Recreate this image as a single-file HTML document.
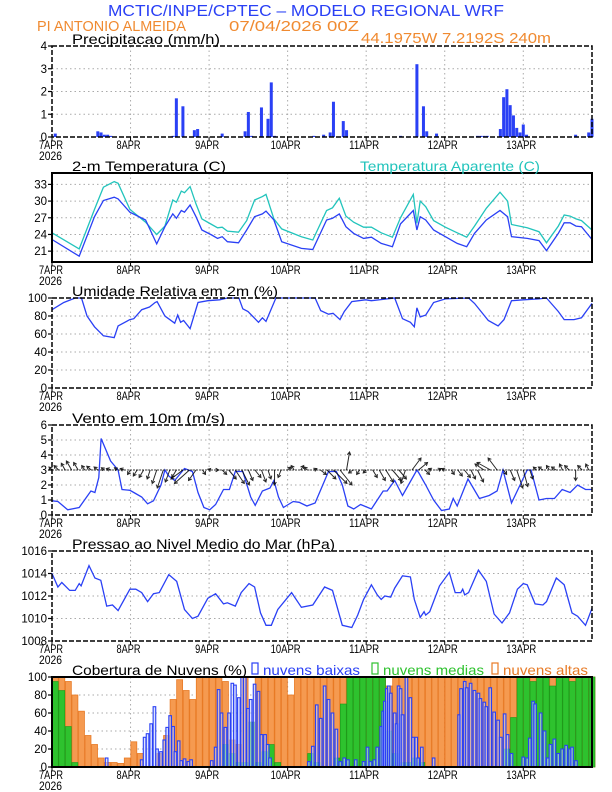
<!DOCTYPE html>
<html><head><meta charset="utf-8"><style>
html,body{margin:0;padding:0;background:#fff;}
svg{display:block;font-family:"Liberation Sans",sans-serif;}
</style></head><body>
<svg id="chart" width="612" height="792" viewBox="0 0 612 792" xmlns="http://www.w3.org/2000/svg">
<text x="108" y="16" font-size="16" fill="#2a40f5" textLength="396" lengthAdjust="spacingAndGlyphs">MCTIC/INPE/CPTEC – MODELO REGIONAL WRF</text>
<text x="37" y="31" font-size="15" fill="#f08a30" textLength="149" lengthAdjust="spacingAndGlyphs">PI ANTONIO ALMEIDA</text>
<text x="229" y="31" font-size="15" fill="#f08a30" textLength="130" lengthAdjust="spacingAndGlyphs">07/04/2026 00Z</text>
<text x="361" y="43" font-size="15" fill="#f08a30" textLength="190" lengthAdjust="spacingAndGlyphs">44.1975W 7.2192S 240m</text>
</svg>
<script>
// ---- data ----
const dayLabels = ["7APR","8APR","9APR","10APR","11APR","12APR","13APR"];
const precipHours = [1,14,15,16,17,18,37,38,40,43.5,44.5,52,59,60,61,64,66,67,68,80,83,85,86,89,90,106.5,111.5,113.5,114.5,117.5,130,131,132,133,137,138,139,140,141,142,143,144,145,160,164,165];
const precipVals  = [0.15,0.25,0.2,0.1,0.1,0.05,0.05,1.7,1.35,0.3,0.35,0.15,0.25,1.1,0.05,1.3,0.8,2.4,0.05,0.05,0.1,0.2,1.55,0.7,0.3,0.05,3.2,1.35,0.25,0.15,0.05,0.05,0.05,0.05,0.35,1.75,2.1,1.4,0.95,0.4,0.2,0.55,0.1,0.1,0.2,0.8];
const tempHours = [0,8.3,13,15.7,19,20.2,23.8,28.6,32,34.5,36.9,38,39.5,40.5,42.2,44,45.8,48.8,50.6,52,53.6,57,59.5,61.9,64.3,65.4,67.8,70.2,76.2,79.7,83.9,85.7,87.8,89.8,92.2,95.2,97.6,100.6,104,106.5,110.4,111.5,112.5,114.2,116.6,120.2,123.8,126.7,129.1,132.7,136.9,139.2,140.4,145.2,148.8,151.1,154.7,156.5,158.3,160.1,161.8,165];
const tempVals = [23.1,20.1,27.2,30.1,30.7,30.4,28.0,26.6,22.3,25.4,27.7,26.9,28.3,28.0,29.3,27.2,24.8,23.9,23.3,23.6,22.7,22.5,24.8,27.2,27.7,28.2,26.6,22.7,21.5,21.3,26.6,26.9,27.7,25.4,24.2,23.3,23.5,22.4,21.8,25.9,28.3,24.8,27.2,26.6,24.8,23.6,22.4,21.8,24.2,26.6,28.3,27.2,23.6,23.3,22.9,21.1,24.2,26.1,26.1,25.5,25.4,23.1];
const appTempVals = [24.3,21.4,28.5,32.5,33.5,33.2,28.5,26.2,24.0,25.5,30.2,29.8,31.8,31.5,32.6,29.5,26.8,25.8,25.2,25.3,24.6,24.4,26.5,30.2,30.8,31.2,26.8,25.0,23.6,23.0,28.3,28.8,30.5,27.3,26.2,25.3,25.3,24.3,23.5,27.0,31.2,26.0,30.0,29.0,26.5,25.3,24.3,23.5,25.5,28.7,31.6,30.0,25.8,25.2,24.5,22.5,25.5,27.5,27.3,26.8,26.5,24.8];
const rhHours = [0,3.6,7.1,9,10.7,13,15.7,19,20.2,23.8,25,27.4,29.8,31.5,32.1,34.5,37.5,38.4,39.3,40.2,42.2,44.6,47.6,51.2,53.6,57.1,58.3,59.9,63.1,64.3,65.4,68.4,75,80.4,82.1,84.5,85.9,88,89.3,91.6,95.8,97.6,104.7,107.1,109.5,110.7,111.5,112.5,114.2,116.6,120.2,127.3,129.1,133.3,136.3,138.1,140.4,144,148.8,151.1,154.7,156.5,159.5,161.8,165];
const rhVals = [87,95,100,100,80,68,58,56,69,76,77,87,90,95,96,80,72,81,73,75,66,95,97,98,100,100,88,85,73,78,74,100,100,100,86,82,83,76,85,96,98,97,100,77,73,68,89,79,81,95,99,100,94,75,69,76,97,98,99,100,85,76,76,78,94];
const windHours = [0,1.8,4.8,8.3,11.9,13.1,14.3,15,17.9,20.2,21.4,23.8,25,27.4,29.2,31,33.3,34.5,35.7,37.5,40.5,42.9,44.6,46.4,48.2,50,52.4,54.2,56,58.3,60.7,62.1,64.3,66.6,67.8,69.2,70.7,73.7,75.5,77.9,80.4,84.5,86.9,88.7,90.4,92.2,94.3,97.6,101.2,102.4,104.7,107.1,111.5,112.1,114.2,116.6,119,121.4,122.6,123.8,127.1,130.6,133.6,136,137.8,140.4,145.2,146.4,148.8,151.1,153.5,155.9,158.3,160.6,163,165];
const windVals = [0.95,0.9,0.35,0.5,1.6,1.5,2.5,5.1,3.6,3.0,1.7,1.65,1.5,1.2,0.75,0.95,2.0,3.0,2.6,2.3,3.1,2.9,1.5,0.5,0.35,0.7,1.7,1.7,2.9,2.9,1.2,0.65,1.6,1.8,2.3,1.2,0.5,0.9,0.85,0.6,0.8,2.9,2.9,2.0,0.6,0.4,0.7,0.4,1.6,1.6,2.3,1.3,3.0,2.8,2.0,1.0,0.3,0.4,1.1,0.6,2.4,1.1,1.3,1.6,3.0,0.8,3.0,3.0,1.0,1.1,1.1,1.7,1.5,2.0,1.7,1.7];
const windU = [-0.2,-0.3,-0.25,-0.35,-0.3,-0.2,-0.3,-0.25,-0.2,-0.3,-0.2,-0.25,
 -0.2,-0.25,-0.3,-0.2,-0.3,-0.4,-0.3,-0.3,-0.8,-1.0,-0.5,0.2,
 0.1,0.2,0.3,0.5,0.6,0.5,0.3,0.4,0.3,0.2,0.0,-0.2,
 0.2,-0.2,0.2,-0.2,0.2,0.4,0.6,0.9,0.8,0.2,-0.3,-0.2,
 -0.2,0.3,0.4,0.5,0.6,0.5,-0.3,0.6,0.6,0.3,-0.2,0.2,
 -0.2,0.2,0.3,0.4,0.3,0.4,-0.6,-0.9,-0.6,0.2,0.3,0.4,
 0.3,0.2,-0.2,-0.3,-0.2,-0.3,-0.2,-0.3,0.0,-0.3,-0.2];
const windV = [0.2,0.3,0.45,0.6,0.5,0.3,0.25,0.2,0.15,0.1,0.15,0.1,
 -0.3,-0.4,-0.5,-0.6,-0.9,-1.2,-0.8,-0.5,-0.6,-0.9,-0.7,-0.3,
 0.1,0,-0.3,-0.6,-0.9,-1.0,-0.7,-0.5,-0.8,-0.6,-1.0,-0.5,
 0.2,0.3,0.3,0.2,0.1,-0.3,-0.6,-0.9,-1.0,1.2,-0.2,-0.3,
 -0.2,-0.5,-0.7,-0.8,-0.7,-0.6,-0.9,0.8,0.5,-0.3,0.1,0.1,
 0.1,-0.3,-0.4,-0.5,-0.6,-0.8,0.4,0.5,0.8,-0.3,-0.7,-1.2,
 -1.1,-0.6,0.2,0.2,0.3,0.2,0.4,0.3,-0.7,0.3,0.4];
const presHours = [0,1.8,3,5.4,7.1,8.3,8.9,11.3,13.1,14.9,16.7,18.5,20.2,23.8,25.6,27.4,29.2,31,32.8,35.7,38.1,40.5,42.9,44.6,47.6,50,52.4,53.6,56,57.8,60.2,61.9,63.7,65.4,67,69,73.2,76.2,79.7,83.3,85.7,88.7,91.6,93.4,95.2,97.6,99.4,100.6,101.7,103.5,104.7,107.1,109.5,110.7,112.5,113.7,114.2,115.4,118.4,121.4,123.2,124.9,125.5,126.1,127.3,130.3,132.7,135.1,137.5,139.8,142.2,144,145.2,147.6,150,151.1,154.1,156.5,158.9,160.6,163,165];
const presVals = [1014.0,1012.8,1013.2,1012.5,1012.5,1013.1,1012.9,1014.7,1013.6,1013.4,1011.1,1011.2,1010.7,1012.6,1012.6,1012.3,1011.5,1012.2,1012.3,1013.9,1013.3,1010.8,1010.0,1010.2,1011.8,1012.2,1011.3,1011.4,1011.1,1012.3,1013.1,1012.8,1010.5,1009.4,1009.4,1010.8,1012.3,1011.0,1011.2,1012.8,1012.5,1009.4,1009.2,1010.3,1011.7,1013.0,1012.1,1011.7,1012.0,1011.9,1012.7,1013.8,1013.7,1011.7,1010.1,1010.6,1010.3,1010.6,1012.9,1014.1,1012.3,1012.3,1012.6,1012.1,1012.3,1014.3,1013.3,1010.4,1009.6,1010.5,1012.6,1013.1,1013.0,1011.3,1011.2,1011.5,1013.6,1013.0,1010.5,1010.2,1009.4,1010.9];
// cloud cover, 2-hourly (h = 0,2,...,164)
const highCloud = [100,100,95,80,62,35,25,10,5,5,4,10,28,15,0,0,15,35,75,97,85,75,100,100,100,100,95,30,25,100,45,100,100,100,100,100,80,100,100,100,100,100,100,100,100,100,100,100,100,100,100,90,100,100,100,100,100,100,100,100,100,100,100,100,100,100,100,100,100,100,100,100,100,100,100,100,100,100,100,100,100,100,100];
const midCloud = [95,85,45,5,0,0,0,0,0,0,0,0,0,0,0,0,0,0,0,0,0,0,0,0,0,0,25,15,5,5,50,5,17,25,5,0,0,0,0,15,5,0,0,10,70,100,100,100,100,100,100,40,15,5,5,10,5,0,0,0,0,0,0,0,0,0,0,0,0,20,55,100,100,95,100,100,90,100,100,95,100,100,100];
const lowHours = [16.7,27.4,28.3,29.2,30.3,31.3,32.1,33.3,34.3,35.2,36.1,37,37.7,38.7,39.5,40.5,41.7,42.5,48.8,50,50.9,51.8,53,54.1,55.1,55.9,57.1,58.1,58.9,59.9,60.7,61.9,63.1,64,65.1,65.9,66.6,78.5,79.7,80.9,82.1,83.3,84.5,85.7,86.9,88.1,89.3,90.4,92.8,95.2,96.4,97.3,98.5,99.4,100.6,101.2,101.7,102.3,102.9,103.5,104.7,105.3,105.9,106.5,107.1,108.3,109.5,110.3,111.3,111.9,113,116.6,124.4,125,126.1,126.7,127.9,129.1,130.3,130.9,132.1,132.7,133.9,135.1,136.3,137.1,138.3,139.2,140.4,144,145.2,146,147,147.6,149.3,150.5,151.5,152.3,153.5,154.7,155.9,157.1,158.3,158.9,160.1];
const lowCloud = [10,8,33,37,48,67,20,17,30,44,57,45,17,29,7,9,6,8,7,22,86,60,44,60,93,91,77,100,100,65,75,92,84,36,36,25,10,6,23,69,54,90,75,60,42,6,10,8,8,6,22,6,8,22,45,62,73,87,90,82,60,48,90,87,58,100,77,33,33,10,22,10,58,87,95,88,93,85,82,76,72,67,88,61,52,33,59,36,15,11,10,32,73,70,60,40,10,25,31,15,20,24,20,22,7];

// ---- layout ----
const svg = document.getElementById('chart');
const NS = 'http://www.w3.org/2000/svg';
const X0 = 52, X1 = 592, HMAX = 165;
function xs(h){ return X0 + h*(X1-X0)/HMAX; }
function mk(tag, attrs, parent){ const e=document.createElementNS(NS,tag); for(const k in attrs) e.setAttribute(k,attrs[k]); (parent||svg).appendChild(e); return e; }
function scaleY(p){ return v => p.bot - (v-p.min)/(p.max-p.min)*(p.bot-p.top); }
const BLUE='#2a40f5', CYAN='#22c4bc', ORANGE='#f59a50', ORANGE_D='#e87a25', GREEN='#2ec22e';

function panel(p){
  const g = mk('g',{});
  
  
  const y = scaleY(p);
  for(let d=1; d<7; d++){
    const l = mk('line',{x1:xs(d*24),x2:xs(d*24),y1:p.top,y2:p.bot,stroke:'#aaa','stroke-width':1,'stroke-dasharray':'1.5,3'},g);
    
    
  }
  p.ticks.forEach(t=>{
    if(t!==p.min && t!==p.max){
      const l = mk('line',{x1:X0,x2:X1,y1:y(t),y2:y(t),stroke:'#aaa','stroke-width':1,'stroke-dasharray':'1.5,3'},g);
      
      
    }
    const tk = mk('line',{x1:X0-4,x2:X0,y1:y(t),y2:y(t),stroke:'#000','stroke-width':1.2},g);
    
    
    const tx = mk('text',{x:X0-5,y:y(t)+4,'font-size':11.5,'text-anchor':'end',fill:'#000'},g);
    
    
    tx.textContent = t;
  });
  dayLabels.forEach((lab,i)=>{
    const tk = mk('line',{x1:xs(i*24),x2:xs(i*24),y1:p.bot,y2:p.bot+4,stroke:'#000','stroke-width':1},g);
    
    
    const tx = mk('text',{x:xs(i*24)-(i===0?1:2),y:p.bot+12,'font-size':11.5,'text-anchor':'middle',fill:'#000',textLength:lab.length*6,lengthAdjust:'spacingAndGlyphs'},g);
    
    
    tx.textContent = lab;
  });
  const yr = mk('text',{x:39,y:p.bot+23,'font-size':11.5,fill:'#000',textLength:23,lengthAdjust:'spacingAndGlyphs'},g);
  
  
  yr.textContent='2026';
  const tt = mk('text',{x:72,y:p.top-2,'font-size':14,fill:'#000',textLength:p.tw,lengthAdjust:'spacingAndGlyphs'},g);
  
  
  tt.textContent = p.title;
  p.y = y; p.g = g;
  return p;
}
function frame(p){
  const r = mk('rect',{x:X0,y:p.top,width:X1-X0,height:p.bot-p.top,fill:'none',stroke:'#000','stroke-width':p.solid?2:1.5,'stroke-dasharray':p.solid?'none':'5,2'},p.g);
  
  
}
function line(p, hours, vals, color, name){
  const d = hours.map((h,i)=>(i?'L':'M')+xs(h).toFixed(1)+','+p.y(vals[i]).toFixed(1)).join('');
  const pa = mk('path',{d:d,fill:'none',stroke:color,'stroke-width':1.3},p.g);
  
  
}

const P1 = panel({name:'precip-panel',top:46,bot:137,min:0,max:4,ticks:[0,1,2,3,4],title:'Precipitacao (mm/h)',tw:148});
precipHours.forEach((h,i)=>{
  const b = mk('rect',{x:xs(h)-1.5,y:P1.y(precipVals[i]),width:3,height:P1.bot-P1.y(precipVals[i]),fill:BLUE},P1.g);
  
  
});
frame(P1);

const P2 = panel({name:'temperature-panel',top:173,bot:262,min:19.05,max:35.05,ticks:[21,24,27,30,33],title:'2-m Temperatura (C)',tw:154,solid:true});
line(P2,tempHours,appTempVals,CYAN,'apparent-temperature-line');
line(P2,tempHours,tempVals,BLUE,'temperature-line');
frame(P2);
const at = mk('text',{x:360,y:171,'font-size':14,fill:CYAN,textLength:180,lengthAdjust:'spacingAndGlyphs'});


at.textContent='Temperatura Aparente (C)';

const P3 = panel({name:'humidity-panel',top:298,bot:388,min:0,max:100,ticks:[0,20,40,60,80,100],title:'Umidade Relativa em 2m (%)',tw:206});
line(P3,rhHours,rhVals,BLUE,'humidity-line');
frame(P3);

const P4 = panel({name:'wind-panel',top:425,bot:515,min:0,max:6,ticks:[0,1,2,3,4,5,6],title:'Vento em 10m (m/s)',tw:153});
line(P4,windHours,windVals,BLUE,'wind-speed-line');
const wpx = (P4.bot-P4.top)/6;
windU.forEach((u,i)=>{
  const h = i*2, x0 = xs(h), y0 = P4.y(3);
  const x1 = x0 + u*wpx, y1 = y0 - windV[i]*wpx;
  const len = Math.hypot(x1-x0,y1-y0)||1, ux=(x1-x0)/len, uy=(y1-y0)/len;
  const hl = 3;
  const a = mk('path',{d:`M${x0},${y0}L${x1},${y1}M${x1-hl*ux-hl*0.6*uy},${y1-hl*uy+hl*0.6*ux}L${x1},${y1}L${x1-hl*ux+hl*0.6*uy},${y1-hl*uy-hl*0.6*ux}`,stroke:'#000','stroke-width':1,fill:'none','stroke-opacity':0.85},P4.g);
  
  
});
const base = mk('line',{x1:X0,x2:X1,y1:P4.y(3),y2:P4.y(3),stroke:'#000','stroke-width':0.8,'stroke-dasharray':'2,1'},P4.g);


frame(P4);

const P5 = panel({name:'pressure-panel',top:551,bot:641,min:1008,max:1016,ticks:[1008,1010,1012,1014,1016],title:'Pressao ao Nivel Medio do Mar (hPa)',tw:263});
line(P5,presHours,presVals,BLUE,'pressure-line');
frame(P5);

const P6 = panel({name:'cloud-panel',top:677,bot:767,min:0,max:100,ticks:[0,20,40,60,80,100],title:'Cobertura de Nuvens (%)',tw:175,solid:true});
const bw = xs(2)-xs(0);
highCloud.forEach((v,i)=>{
  if(v<=0) return;
  const b = mk('rect',{x:xs(i*2)+0.3,y:P6.y(v),width:bw-0.6,height:P6.bot-P6.y(v),fill:ORANGE,stroke:ORANGE_D,'stroke-width':0.8},P6.g);
  
  
});
midCloud.forEach((v,i)=>{
  if(v<=0) return;
  const b = mk('rect',{x:xs(i*2)+0.3,y:P6.y(v),width:bw-0.6,height:P6.bot-P6.y(v),fill:GREEN,stroke:'#1a9a1a','stroke-width':0.6},P6.g);
  
  
});
lowHours.forEach((h,i)=>{
  const v = lowCloud[i];
  const b = mk('rect',{x:xs(h)-1.3,y:P6.y(v),width:2.6,height:P6.bot-P6.y(v),fill:'#c8d2ff','fill-opacity':0.6,stroke:BLUE,'stroke-width':1.1},P6.g);
  
  
});
frame(P6);
const legend = [
  {bx:252,tx:263,tw:97,label:'nuvens baixas',c:BLUE,n:'legend-low-clouds'},
  {bx:372,tx:383,tw:101,label:'nuvens medias',c:GREEN,n:'legend-mid-clouds'},
  {bx:492,tx:503,tw:85,label:'nuvens altas',c:ORANGE_D,n:'legend-high-clouds'}
];
legend.forEach(L=>{
  const g = mk('g',{});
  
  
  mk('rect',{x:L.bx,y:663,width:6,height:11,fill:'none',stroke:L.c,'stroke-width':1.2},g);
  const t = mk('text',{x:L.tx,y:675,'font-size':14,fill:L.c,textLength:L.tw,lengthAdjust:'spacingAndGlyphs'},g);
  t.textContent = L.label;
});
</script>
</body></html>
